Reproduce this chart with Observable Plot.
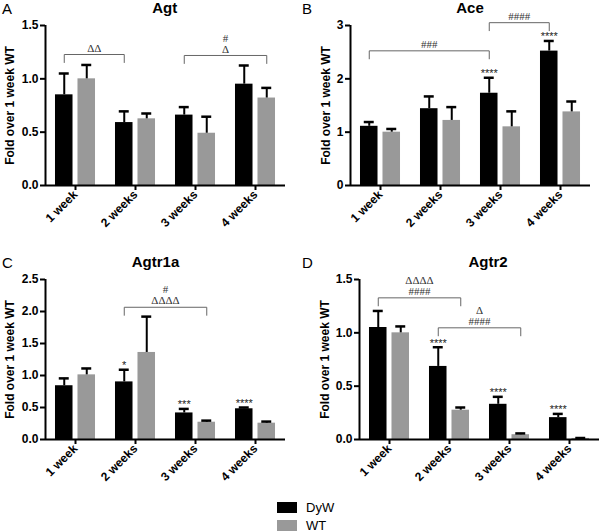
<!DOCTYPE html>
<html><head><meta charset="utf-8">
<script src="https://cdn.jsdelivr.net/npm/d3@7"></script>
<script src="https://cdn.jsdelivr.net/npm/@observablehq/plot@0.6"></script>
<style>
body{margin:0;background:#fff;font-family:"Liberation Sans",Arial,sans-serif;}
#root{position:relative;width:600px;height:532px;overflow:hidden;background:#fff;}
.panel{position:absolute;}
.letter{position:absolute;font-size:15px;line-height:15px;color:#000;}
.title{position:absolute;font-size:15px;font-weight:bold;line-height:15px;transform:translateX(-50%);white-space:nowrap;color:#000;}
.sw{position:absolute;width:20px;height:11px;}
.lg{position:absolute;font-size:13px;line-height:13px;color:#000;}
</style>
</head><body><div id="root"></div>
<script>
// ---- data ----
const weeks = ["1 week", "2 weeks", "3 weeks", "4 weeks"];
const seriesNames = ["DyW", "WT"];
const seriesColors = ["#000000", "#999999"];
const yLabel = "Fold over 1 week WT";

const agtDyW = [0.85, 0.59, 0.66, 0.95];
const agtDyWErr = [0.20, 0.105, 0.075, 0.175];
const agtWT = [1.00, 0.625, 0.49, 0.82];
const agtWTErr = [0.13, 0.05, 0.155, 0.095];
const agtStars = ["", "", "", ""];
const agtBrackets = [
  {from: ["1 week", "DyW"], to: ["2 weeks", "DyW"], y: 1.228, labels: ["ΔΔ"]},
  {from: ["3 weeks", "DyW"], to: ["4 weeks", "WT"], y: 1.219, labels: ["#", "Δ"]}
];

const aceDyW = [1.11, 1.44, 1.73, 2.52];
const aceDyWErr = [0.08, 0.23, 0.29, 0.19];
const aceWT = [1.00, 1.22, 1.10, 1.38];
const aceWTErr = [0.06, 0.25, 0.29, 0.195];
const aceStars = ["", "", "****", "****"];
const aceBrackets = [
  {from: ["1 week", "DyW"], to: ["3 weeks", "DyW"], y: 2.525, labels: ["###"]},
  {from: ["3 weeks", "DyW"], to: ["4 weeks", "DyW"], y: 3.053, labels: ["####"]}
];

const agtr1aDyW = [0.84, 0.90, 0.415, 0.48];
const agtr1aDyWErr = [0.115, 0.19, 0.063, 0.02];
const agtr1aWT = [1.01, 1.36, 0.27, 0.255];
const agtr1aWTErr = [0.10, 0.56, 0.025, 0.025];
const agtr1aStars = ["", "*", "***", "****"];
const agtr1aBrackets = [
  {from: ["2 weeks", "DyW"], to: ["3 weeks", "WT"], y: 2.066, labels: ["#", "ΔΔΔΔ"]}
];

const agtr2DyW = [1.05, 0.685, 0.33, 0.205];
const agtr2DyWErr = [0.155, 0.18, 0.07, 0.035];
const agtr2WT = [1.00, 0.275, 0.045, 0.01];
const agtr2WTErr = [0.06, 0.025, 0.012, 0.004];
const agtr2Stars = ["", "****", "****", "****"];
const agtr2Brackets = [
  {from: ["1 week", "DyW"], to: ["2 weeks", "WT"], y: 1.328, labels: ["ΔΔΔΔ", "####"]},
  {from: ["2 weeks", "DyW"], to: ["3 weeks", "WT"], y: 1.047, labels: ["Δ", "####"]}
];

// ---- layout ----
const X_DOMAIN = [-0.5, weeks.length - 0.5];
const OFF = 0.1875, HALF = 0.146, CAP = 0.083;
const PLOT_H = 160;

const panels = [
  {letter: "A", title: "Agt", left: 0, top: 0, titleX: 164.7, mL: 45, mR: 15, labelDx: -35,
   dyw: agtDyW, dywErr: agtDyWErr, wt: agtWT, wtErr: agtWTErr, stars: agtStars, brackets: agtBrackets,
   yDomain: [0, 1.5], yTicks: [0, 0.5, 1.0, 1.5], yFormat: ".1f"},
  {letter: "B", title: "Ace", left: 300, top: 0, titleX: 170, mL: 50, mR: 10, labelDx: -24,
   dyw: aceDyW, dywErr: aceDyWErr, wt: aceWT, wtErr: aceWTErr, stars: aceStars, brackets: aceBrackets,
   yDomain: [0, 3], yTicks: [0, 1, 2, 3], yFormat: "d"},
  {letter: "C", title: "Agtr1a", left: 0, top: 254, titleX: 155.5, mL: 45, mR: 15, labelDx: -35,
   dyw: agtr1aDyW, dywErr: agtr1aDyWErr, wt: agtr1aWT, wtErr: agtr1aWTErr, stars: agtr1aStars, brackets: agtr1aBrackets,
   yDomain: [0, 2.5], yTicks: [0, 0.5, 1.0, 1.5, 2.0, 2.5], yFormat: ".1f"},
  {letter: "D", title: "Agtr2", left: 300, top: 254, titleX: 188, mL: 59, mR: 1, labelDx: -34,
   dyw: agtr2DyW, dywErr: agtr2DyWErr, wt: agtr2WT, wtErr: agtr2WTErr, stars: agtr2Stars, brackets: agtr2Brackets,
   yDomain: [0, 1.5], yTicks: [0, 0.5, 1.0, 1.5], yFormat: ".1f"}
];

const root = document.getElementById("root");
const xc = (week, series) => weeks.indexOf(week) + (series === "DyW" ? -OFF : OFF);

for (const p of panels) {
  const rows = weeks.flatMap((w, i) => [
    {week: w, series: "DyW", value: p.dyw[i], err: p.dywErr[i], star: p.stars[i]},
    {week: w, series: "WT", value: p.wt[i], err: p.wtErr[i], star: ""}
  ]);
  const drop = 8 / PLOT_H * (p.yDomain[1] - p.yDomain[0]);
  const bracketPts = p.brackets.flatMap((b, k) => {
    const x1 = xc(...b.from), x2 = xc(...b.to);
    return [
      {k, x: x1, y: b.y - drop}, {k, x: x1, y: b.y},
      {k, x: x2, y: b.y}, {k, x: x2, y: b.y - drop}
    ];
  });
  const bracketLabels = p.brackets.flatMap(b => b.labels.map((t, j) => ({
    x: (xc(...b.from) + xc(...b.to)) / 2, y: b.y, text: t, level: b.labels.length - 1 - j
  })));

  const chart = Plot.plot({
    width: 300, height: 250,
    marginTop: 25, marginBottom: 65, marginLeft: p.mL, marginRight: p.mR,
    x: {domain: X_DOMAIN},
    y: {domain: p.yDomain},
    color: {domain: seriesNames, range: seriesColors},
    style: {fontFamily: "'Liberation Sans', Arial, sans-serif", fontSize: "12px", fontWeight: "bold", background: "none", overflow: "visible"},
    marks: [
      Plot.rectY(rows, {x1: d => xc(d.week, d.series) - HALF, x2: d => xc(d.week, d.series) + HALF, y1: 0, y2: "value", fill: "series"}),
      Plot.ruleX(rows, {x: d => xc(d.week, d.series), y1: "value", y2: d => d.value + d.err, stroke: "#000", strokeWidth: 2}),
      Plot.ruleY(rows, {y: d => d.value + d.err, x1: d => xc(d.week, d.series) - CAP, x2: d => xc(d.week, d.series) + CAP, stroke: "#000", strokeWidth: 2.5}),
      Plot.text(rows.filter(d => d.star), {x: d => xc(d.week, d.series), y: d => d.value + d.err, text: "star", dy: -4, fontSize: 11, fontWeight: "normal", fill: "#222"}),
      Plot.line(bracketPts, {x: "x", y: "y", z: "k", stroke: "#666", strokeWidth: 1}),
      ...bracketLabels.map(l => Plot.text([l], {x: "x", y: "y", text: "text", dy: -6.5 - 11 * l.level, fontSize: 11, fontWeight: "normal", fontFamily: "'Liberation Serif', 'DejaVu Serif', serif", fill: "#333"})),
      Plot.axisY({ticks: p.yTicks, tickFormat: d3.format(p.yFormat), tickSize: 5, tickPadding: 2, strokeWidth: 2, label: null, fontSize: 12}),
      Plot.axisX({ticks: weeks.map((w, i) => i), tickFormat: i => weeks[i], tickRotate: -45, tickSize: 5, tickPadding: 2, strokeWidth: 2, label: null, fontSize: 12}),
      Plot.ruleY([p.yDomain[0]], {stroke: "#000", strokeWidth: 2}),
      Plot.ruleX([X_DOMAIN[0]], {stroke: "#000", strokeWidth: 2}),
      Plot.text([yLabel], {frameAnchor: "left", textAnchor: "middle", lineAnchor: "middle", dx: p.labelDx, rotate: -90, text: d => d, fontSize: 12, fontWeight: "bold"})
    ]
  });
  const div = document.createElement("div");
  div.className = "panel";
  div.style.left = p.left + "px";
  div.style.top = p.top + "px";
  div.appendChild(chart);
  root.appendChild(div);

  const L = document.createElement("div");
  L.className = "letter"; L.textContent = p.letter;
  L.style.left = (p.left + 2) + "px"; L.style.top = (p.top + 0.5) + "px";
  root.appendChild(L);
  const T = document.createElement("div");
  T.className = "title"; T.textContent = p.title;
  T.style.left = (p.left + p.titleX) + "px"; T.style.top = (p.top - 0.2) + "px";
  root.appendChild(T);
}

// legend
seriesNames.forEach((s, i) => {
  const sw = document.createElement("div");
  sw.className = "sw"; sw.style.background = seriesColors[i];
  sw.style.left = "277px"; sw.style.top = (502 + 17.5 * i) + "px";
  root.appendChild(sw);
  const t = document.createElement("div");
  t.className = "lg"; t.textContent = s;
  t.style.left = "306px"; t.style.top = (501 + 17.5 * i) + "px";
  root.appendChild(t);
});
</script></body></html>
